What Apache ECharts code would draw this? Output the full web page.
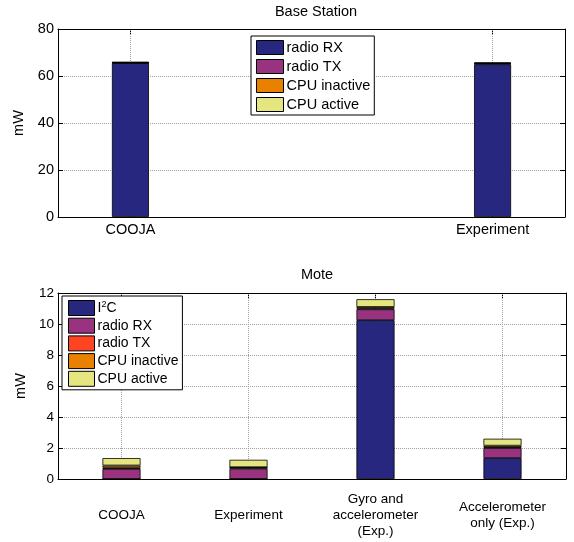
<!DOCTYPE html>
<html><head><meta charset="utf-8">
<script src="https://cdn.jsdelivr.net/npm/echarts@6/dist/echarts.min.js"></script>
<style>html,body{margin:0;padding:0;background:#fff}#c{width:574px;height:542px}</style>
</head><body><div id="c"></div>
<script>
// Base Station (top)
const baseCategories = ['COOJA', 'Experiment'];
const baseRadioRX = [65.5, 65.0];
const baseRadioTX = [0.15, 0.3];
const baseCpuInactive = [0.05, 0.1];
const baseCpuActive = [0.3, 0.4];
const baseYTicks = [0, 20, 40, 60, 80];

// Mote (bottom)
const moteCategories = ['COOJA', 'Experiment', 'Gyro and\naccelerometer\n(Exp.)', 'Accelerometer\nonly (Exp.)'];
const moteI2C = [0, 0, 10.25, 1.35];
const moteRadioRX = [0.65, 0.66, 0.7, 0.65];
const moteRadioTX = [0.08, 0.08, 0.05, 0.05];
const moteCpuInactive = [0.14, 0.02, 0.1, 0.1];
const moteCpuActive = [0.48, 0.48, 0.5, 0.45];
const moteYTicks = [0, 2, 4, 6, 8, 10, 12];

const C = {navy:'#27277f', magenta:'#993380', red:'#ff4422', orange:'#e88000', yellow:'#e6e680'};
const FONT = 'Liberation Sans, Arial, Helvetica, sans-serif';
const grid1 = {left:58, right:9, top:29, height:188};
const grid2 = {left:58, right:8, top:293, height:186};

const basePos = baseCategories.map((c,i)=>i+1);
const axisLineStyle = {show:true, onZero:false, lineStyle:{color:'#000', width:1}};
const dotted = {type:'dotted', color:'#a0a0a0', width:1};

function bar(name, values, color, xIdx, yIdx, extra) {
  return Object.assign({
    type:'bar', name, stack: 'g'+xIdx, xAxisIndex:xIdx, yAxisIndex:yIdx,
    data: values, itemStyle:{color, borderColor:'#000', borderWidth:0.8},
    barWidth: xIdx===0 ? 37 : '30%', z:2
  }, extra||{});
}
// top chart: value first so that the stack is applied on the value dimension
function baseBar(name, values, color, extra) {
  return bar(name, values.map((v,i)=>[v, basePos[i]]), color, 0, 0,
    Object.assign({encode:{x:1, y:0}}, extra||{}));
}

const option = {
  animation:false,
  backgroundColor:'#fff',
  textStyle:{fontFamily:FONT},
  title:[
    {text:'Base Station', left:311, top:-1, textAlign:'center', textStyle:{fontSize:14.5, fontWeight:'normal', color:'#000', fontFamily:FONT}},
    {text:'Mote', left:312, top:262, textAlign:'center', textStyle:{fontSize:14.5, fontWeight:'normal', color:'#000', fontFamily:FONT}}
  ],
  grid:[grid1, grid2],
  legend:[
    {
      data:['radio RX','radio TX','CPU inactive','CPU active'].map(n=>({name:n})),
      orient:'vertical', left:251, top:36, itemWidth:27, itemHeight:14, itemGap:4,
      padding:[4,4,3,5], borderColor:'#000', borderWidth:1, backgroundColor:'#fff',
      textStyle:{fontSize:14.5, lineHeight:14, color:'#000', fontFamily:FONT, padding:[0,0,0,-2]},
      itemStyle:{borderColor:'#000', borderWidth:1}, selectedMode:false, icon:'rect'
    },
    {
      data:['I2C','radio RX ','radio TX ','CPU inactive ','CPU active '].map(n=>({name:n})),
      orient:'vertical', left:62, top:296, itemWidth:26, itemHeight:15, itemGap:1.7,
      padding:[4,4,3,6], borderColor:'#000', borderWidth:1, backgroundColor:'#fff',
      textStyle:{fontSize:14, lineHeight:15, color:'#000', fontFamily:FONT, padding:[0,0,0,-2],
        rich:{sup:{fontSize:9, lineHeight:15, verticalAlign:'top', padding:[0,0,5,0], fontFamily:FONT, color:'#000'},
              n:{fontSize:14, lineHeight:15, fontFamily:FONT, color:'#000'}}},
      itemStyle:{borderColor:'#000', borderWidth:1}, selectedMode:false, icon:'rect',
      formatter: n => n==='I2C' ? '{n|I}{sup|2}{n|C}' : n.trim()
    }
  ],
  xAxis:[
    {type:'value', gridIndex:0, min:0.8, max:2.2, position:'bottom',
     axisLine:axisLineStyle,
     axisTick:{show:true, inside:true, length:5, customValues:basePos, lineStyle:{color:'#000'}},
     axisLabel:{show:true, customValues:basePos, formatter:v=>baseCategories[Math.round(v)-1]||'', fontSize:14.5, color:'#000', margin:5, fontFamily:FONT},
     splitLine:{show:false}},
    {type:'category', gridIndex:1, data:moteCategories, position:'bottom',
     axisLine:axisLineStyle,
     axisTick:{show:true, inside:true, length:5, alignWithLabel:true, lineStyle:{color:'#000'}},
     axisLabel:{fontSize:13.5, color:'#000', margin:36, verticalAlign:'middle', lineHeight:16, interval:0, fontFamily:FONT},
     splitLine:{show:false}},
    {type:'value', gridIndex:0, min:0.8, max:2.2, position:'top',
     axisLine:axisLineStyle,
     axisTick:{show:true, inside:true, length:5, customValues:basePos, lineStyle:{color:'#000'}},
     axisLabel:{show:false}, splitLine:{show:false}},
    {type:'category', gridIndex:1, data:moteCategories, position:'top',
     axisLine:axisLineStyle,
     axisTick:{show:true, inside:true, length:5, alignWithLabel:true, lineStyle:{color:'#000'}},
     axisLabel:{show:false}, splitLine:{show:false}}
  ],
  yAxis:[
    {type:'value', gridIndex:0, min:baseYTicks[0], max:baseYTicks[baseYTicks.length-1], interval:20,
     name:'mW', nameLocation:'middle', nameGap:27, nameTextStyle:{fontSize:14.5, color:'#000', fontFamily:FONT},
     axisLine:axisLineStyle, axisTick:{show:true, inside:true, length:5, lineStyle:{color:'#000'}},
     axisLabel:{fontSize:14.5, color:'#000', margin:4, fontFamily:FONT},
     splitLine:{show:true, lineStyle:dotted}},
    {type:'value', gridIndex:1, min:moteYTicks[0], max:moteYTicks[moteYTicks.length-1], interval:2,
     name:'mW', nameLocation:'middle', nameGap:27, nameTextStyle:{fontSize:14.5, color:'#000', fontFamily:FONT},
     axisLine:axisLineStyle, axisTick:{show:true, inside:true, length:5, lineStyle:{color:'#000'}},
     axisLabel:{fontSize:13.5, color:'#000', margin:4, fontFamily:FONT},
     splitLine:{show:true, lineStyle:dotted}},
    {type:'value', gridIndex:0, min:baseYTicks[0], max:baseYTicks[baseYTicks.length-1], interval:20, position:'right',
     axisLine:axisLineStyle, axisTick:{show:true, inside:true, length:5, lineStyle:{color:'#000'}},
     axisLabel:{show:false}, splitLine:{show:false}},
    {type:'value', gridIndex:1, min:moteYTicks[0], max:moteYTicks[moteYTicks.length-1], interval:2, position:'right',
     axisLine:axisLineStyle, axisTick:{show:true, inside:true, length:5, lineStyle:{color:'#000'}},
     axisLabel:{show:false}, splitLine:{show:false}}
  ],
  series:[
    baseBar('radio RX', baseRadioRX, C.navy, {
      markLine:{silent:true, symbol:'none', z:1, label:{show:false}, lineStyle:dotted, animation:false,
        data: basePos.map(p=>({xAxis:p}))}
    }),
    baseBar('radio TX', baseRadioTX, C.magenta),
    baseBar('CPU inactive', baseCpuInactive, C.orange),
    baseBar('CPU active', baseCpuActive, C.yellow),
    bar('I2C', moteI2C, C.navy, 1, 1, {
      markLine:{silent:true, symbol:'none', z:1, label:{show:false}, lineStyle:dotted, animation:false,
        data: moteCategories.map(c=>({xAxis:c}))}
    }),
    bar('radio RX ', moteRadioRX, C.magenta, 1, 1),
    bar('radio TX ', moteRadioTX, C.red, 1, 1),
    bar('CPU inactive ', moteCpuInactive, C.orange, 1, 1),
    bar('CPU active ', moteCpuActive, C.yellow, 1, 1)
  ]
};
const chart = echarts.init(document.getElementById('c'), null, {renderer:'canvas'});
chart.setOption(option);
</script></body></html>
